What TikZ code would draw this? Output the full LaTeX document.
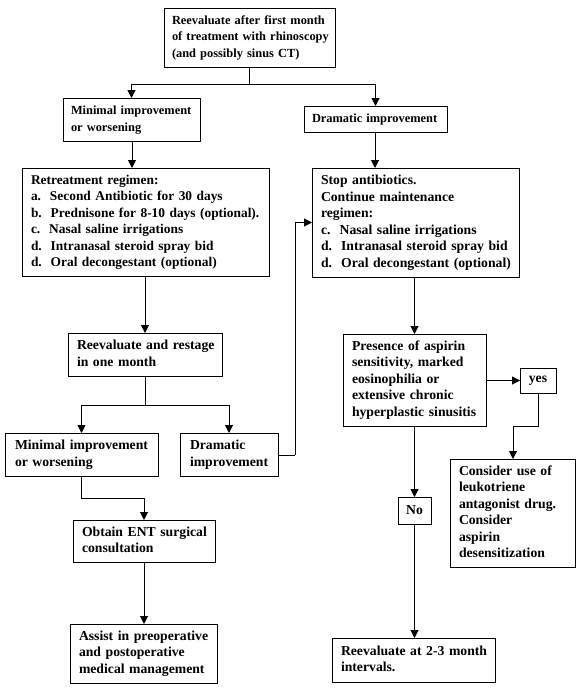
\documentclass[tikz,border=0pt]{standalone}
\usepackage{fontspec}
\setmainfont{Liberation Serif}
\usetikzlibrary{arrows.meta}
\newcommand\fsz{\fontsize{13.7}{16.5}\selectfont\bfseries}
\newcommand\fszs{\fontsize{12.4}{16.5}\selectfont\bfseries}
\newcommand\fszm{\fontsize{13.4}{16.5}\selectfont\bfseries}
\newcommand\bx[7][]{\node[box, #1, minimum width=#5pt, minimum height=#6pt, text width=#5pt-2*\pgfkeysvalueof{/pgf/inner xsep}] (#2) at (#3,#4) {\begin{tabular}{@{}l@{}}#7\end{tabular}};}
\tikzset{
  box/.style={draw, line width=1pt, anchor=north west, inner xsep=9pt, inner ysep=0pt, outer sep=0pt, align=left, font=\fsz},
  smallfont/.style={font=\fszs, inner xsep=8pt},
  midfont/.style={font=\fszm},
  widepad/.style={inner xsep=10pt},
  smallbox/.style={draw, line width=1pt, anchor=north west, inner sep=0pt, outer sep=0pt, align=center, font=\fsz},
  conn/.style={line width=1pt},
  arr/.style={line width=1pt, -{Triangle[length=8pt,width=8pt]}}
}
\begin{document}
\begin{tikzpicture}[x=1pt,y=-1pt]
\fill[white] (0,0) rectangle (580,688);
\useasboundingbox (0,0) rectangle (580,688);
\bx[smallfont]{top}{164}{8}{171}{59}{Reevaluate after first month\\of treatment with rhinoscopy\\(and possibly sinus CT)}
\bx[smallfont]{minA}{63}{98}{137}{43}{Minimal improvement\\or worsening}
\bx[smallfont]{dramA}{304}{106}{143}{26}{Dramatic improvement}
\bx[midfont]{retreat}{22}{168}{247}{108}{Retreatment regimen:\\a.\ \ Second Antibiotic for 30 days\\b.\ \ Prednisone for 8-10 days (optional).\\c.\ \ Nasal saline irrigations\\d.\ \ Intranasal steroid spray bid\\d.\ \ Oral decongestant (optional)}
\bx{stop}{312}{168}{207}{109}{Stop antibiotics.\\Continue maintenance\\regimen:\\c.\ \ Nasal saline irrigations\\d.\ \ Intranasal steroid spray bid\\d.\ \ Oral decongestant (optional)}
\bx{reeval}{68}{333}{154}{43}{Reevaluate and restage\\in one month}
\bx{presence}{343}{334}{143}{92}{Presence of aspirin\\sensitivity, marked\\eosinophilia or\\extensive chronic\\hyperplastic sinusitis}
\bx[widepad]{minB}{5}{433}{153}{43}{Minimal improvement\\or worsening}
\bx[widepad]{dramB}{180}{433}{98}{43}{Dramatic\\improvement}
\node[smallbox, minimum width=36pt, minimum height=25pt] (yes) at (520,368) {yes};
\bx{consider}{450}{459}{125}{108}{Consider use of\\leukotriene\\antagonist drug.\\Consider\\aspirin\\desensitization}
\node[smallbox, minimum width=33pt, minimum height=27pt] (no) at (398,497) {No};
\bx{ent}{73}{520}{142}{42}{Obtain ENT surgical\\consultation}
\bx{assist}{70}{624}{147}{59}{Assist in preoperative\\and postoperative\\medical management}
\bx{reevalB}{332}{638}{163}{44}{Reevaluate at 2-3 month\\intervals.}
% split coordinates
\coordinate (s1) at (249,84);
\coordinate (s2) at (145,405);
\coordinate (s3) at (144,498);
\coordinate (s4) at (513,426);
\coordinate (s5) at (295,455);
\draw[conn] (top.south -| s1) -- (s1);
\draw[arr] (s1) -| (minA.north);
\draw[arr] (s1) -| (dramA.north);
\draw[arr] (minA.south -| 132,0) -- (retreat.north -| 132,0);
\draw[arr] (dramA.south -| 375,0) -- (stop.north -| 375,0);
\draw[arr] (retreat.south -| reeval.north) -- (reeval.north);
\draw[arr] (stop.south -| presence.north) -- (presence.north);
\draw[conn] (reeval.south) -- (s2);
\draw[arr] (s2) -| (minB.north);
\draw[arr] (s2) -| (dramB.north);
\draw[conn] (dramB.east |- s5) -- (s5);
\draw[arr] (s5) |- (stop.west);
\draw[conn] (minB.south) |- (s3);
\draw[arr] (s3) -- (ent.north -| s3);
\draw[arr] (ent.south -| s3) -- (assist.north -| s3);
\draw[arr] (presence.east |- yes.west) -- (yes.west);
\draw[conn] (yes.south) |- (s4);
\draw[arr] (s4) -- (consider.north -| s4);
\draw[arr] (presence.south -| no.north) -- (no.north);
\draw[arr] (no.south) -- (reevalB.north -| no.south);
\end{tikzpicture}
\end{document}
